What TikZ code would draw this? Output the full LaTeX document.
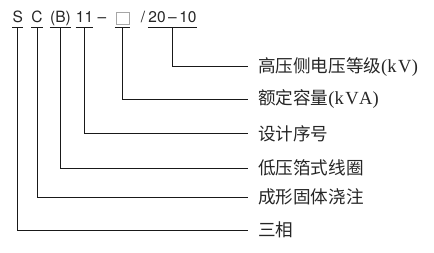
\documentclass[tikz,border=0pt]{standalone}
\usepackage{fontspec}
\setmainfont{Liberation Serif}
\newfontfamily\codefont[Ligatures=TeX]{TeX Gyre Heros}
\newfontfamily\cjk{Noto Sans CJK SC}
\usetikzlibrary{positioning, calc}

\tikzset{
    code/.style={anchor=base, inner xsep=0pt, inner ysep=3.5pt, text height=11pt, text depth=2pt, font=\codefont\fontsize{15.5}{18}\selectfont},
    lab/.style={anchor=west, inner xsep=0pt, outer xsep=10pt, font=\fontsize{17.6}{20}\selectfont},
    unit/.style={font=\fontsize{18.5}{20}\selectfont},
    lead/.style={line width=0.8pt, black!90},
}

\begin{document}
\begin{tikzpicture}[x=1pt, y=-1pt, black!85]
    \useasboundingbox (0,0) rectangle (434,252);

    % model code
    \node[code, minimum width=10pt] (phase) at (17.7,22) {S};
    \node[code, minimum width=10pt] (cast) at (37,22) {C};
    \node[code, minimum width=21pt] (foil) at (60.5,22) {(B)};
    \node[code, minimum width=15pt] (design) at (84.5,22) {11};
    \node[code] (dash) at (102,22) {–};
    \node[code, minimum width=15pt] (rating) at (122.5,22) {\phantom{0}};
    \node[draw=black!35, line width=0.6pt, minimum width=13pt, minimum height=11.3pt, inner sep=0pt] (box) at (122.5,18.3) {};
    \node[code] (slash) at (143,22) {/};
    \node[code, minimum width=49pt] (volt) at (172.5,22) {20\kern2.5pt–\kern2.5pt10};

    % underlines
    \foreach \n in {phase, cast, foil, design, rating, volt}
        \draw[lead] (\n.south west) -- (\n.south east);

    % meanings
    \node[lab] (voltlab) at (248,66.7) {{\cjk 高压侧电压等级}{\fontsize{18.5}{20}\selectfont(k\kern1.5pt V\kern0.5pt)}};
    \node[lab] (ratinglab) at (248,99.3) {{\cjk 额定容量}{\fontsize{18.5}{20}\selectfont(k\kern1.5pt V\kern0.5pt A)}};
    \node[lab] (designlab) at (248,133.3) {\cjk 设计序号};
    \node[lab] (foillab) at (248,168.3) {\cjk 低压箔式线圈};
    \node[lab] (castlab) at (248,197) {\cjk 成形固体浇注};
    \node[lab] (phaselab) at (248,230.3) {\cjk 三相};

    \draw[lead] (volt.south) |- (voltlab.west);
    \draw[lead] (rating.south) |- (ratinglab.west);
    \draw[lead] (design.south) |- (designlab.west);
    \draw[lead] (foil.south) |- (foillab.west);
    \draw[lead] (cast.south) |- (castlab.west);
    \draw[lead] (phase.south) |- (phaselab.west);
\end{tikzpicture}
\end{document}
